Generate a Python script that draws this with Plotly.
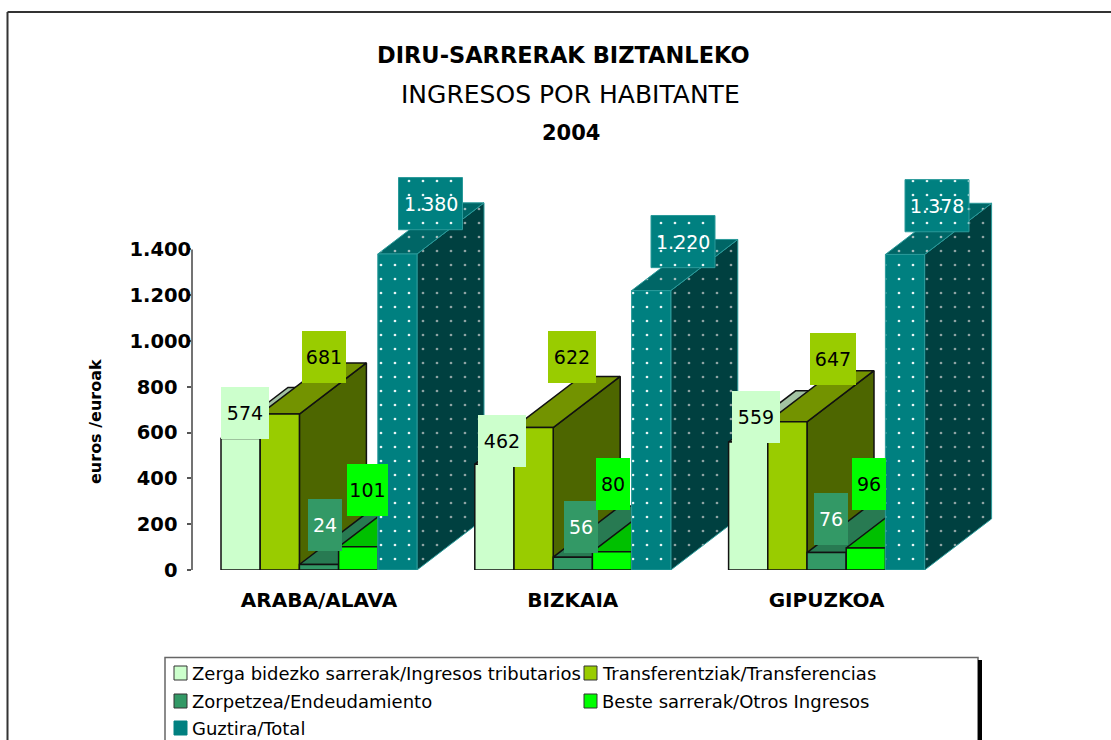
import plotly.graph_objects as go

# ---------- data ----------
categories = ["ARABA/ALAVA", "BIZKAIA", "GIPUZKOA"]
series_names = [
    "Zerga bidezko sarrerak/Ingresos tributarios",
    "Transferentziak/Transferencias",
    "Zorpetzea/Endeudamiento",
    "Beste sarrerak/Otros Ingresos",
    "Guztira/Total",
]
tributarios = [574, 462, 559]
transferencias = [681, 622, 647]
endeudamiento = [24, 56, 76]
otros = [101, 80, 96]
total = [1380, 1220, 1378]
y_ticks = [0, 200, 400, 600, 800, 1000, 1200, 1400]

# ---------- styles ----------
series_values = [tributarios, transferencias, endeudamiento, otros, total]
FONT = "DejaVu Sans"
front_col = ["#CCFFCC", "#99CC00", "#339966", "#00FF00", "#008080"]
top_col = ["#A3C2A3", "#739300", "#287A52", "#00C000", "#006666"]
side_col = ["#A3C2A3", "#4D6600", "#287A52", "#00C000", "#004040"]
edge_col = ["#111111", "#111111", "#111111", "#111111", "#2A9A9A"]
label_col = ["black", "black", "white", "black", "white"]

PX_X = 253.8          # px per category
PX_Y = 0.2283         # px per value unit
BAR = 39.2 / PX_X     # bar width in category units
DX = 67 / PX_X        # depth in category units
DY = 51 / PX_Y        # depth in value units

# label box layout: [category][series]
label_dx = [[4.4, 44.2, 6, 9.3, 33.1], [7.6, 38.4, 8.2, 1, 31.8], [7.8, 45.6, 4.4, 3.2, 32]]
label_up = [[25.8, 57.3, 39.2, 56.9, 50.2], [23.2, 70.6, 29.7, 67.7, 48.9], [25, 62.3, 33.1, 64, 48.6]]
label_w = [[48, 44, 34, 41, 64], [48, 48, 34, 34, 64], [48, 46, 34, 34, 64]]
LABEL_H = 52

fig = go.Figure()


def poly(xs, ys, fill, edge, name, pattern=None, width=1.5):
    kw = {"fillpattern": pattern} if pattern else {}
    fig.add_trace(go.Scatter(
        x=xs, y=ys, mode="lines", fill="toself", fillcolor=fill,
        line=dict(color=edge, width=width), name=name, showlegend=False,
        hoverinfo="name", **kw))


def dots(bg, fg, solidity=0.03):
    return dict(shape=".", bgcolor=bg, fgcolor=fg, size=14, solidity=solidity, fillmode="replace")


for c in range(len(categories)):
    for s, vals in enumerate(series_values):
        v = vals[c]
        x0 = c + (s - 2.5) * BAR
        x1 = x0 + BAR
        teal = s == 4
        w = 1 if teal else 1.5
        poly([x1, x1 + DX, x1 + DX, x1, x1], [0, DY, v + DY, v, 0], side_col[s], edge_col[s],
             series_names[s], dots(side_col[s], "#8FA3A3") if teal else None, w)
        poly([x0, x0 + DX, x1 + DX, x1, x0], [v, v + DY, v + DY, v, v], top_col[s], edge_col[s],
             series_names[s], dots(top_col[s], "#A5BDBD") if teal else None, w)
        poly([x0, x1, x1, x0, x0], [0, 0, v, v, 0], front_col[s], edge_col[s],
             series_names[s], dots(front_col[s], "#E8F5F5") if teal else None, w)

annotations = []
# dotted boxes behind the total labels, then all value labels
for c in range(len(categories)):
    for s, vals in enumerate(series_values):
        v = vals[c]
        cx = c + (s - 2) * BAR + label_dx[c][s] / PX_X
        cy = v + label_up[c][s] / PX_Y
        w = label_w[c][s]
        if s == 4:
            hw, hh = w / 2 / PX_X, LABEL_H / 2 / PX_Y
            poly([cx - hw, cx + hw, cx + hw, cx - hw, cx - hw],
                 [cy - hh, cy - hh, cy + hh, cy + hh, cy - hh],
                 front_col[s], edge_col[s], series_names[s], dots(front_col[s], "#E8F5F5"), 1)
        txt = f"{v:,}".replace(",", ".")
        ann = dict(x=cx, y=cy, xref="x", yref="y", text=txt, showarrow=False,
                   font=dict(family=FONT, size=19, color=label_col[s]),
                   xanchor="center", yanchor="middle")
        if s != 4:
            ann.update(bgcolor=front_col[s], width=w, height=LABEL_H, borderpad=0, borderwidth=0)
        annotations.append(ann)

# titles
for text, x, y, size, weight in [
    ("DIRU-SARRERAK BIZTANLEKO", 563, 55, 22.5, 700),
    ("INGRESOS POR HABITANTE", 570, 94, 25, 400),
    ("2004", 571, 133, 21, 700),
]:
    annotations.append(dict(x=x / 1111, y=1 - y / 740, xref="paper", yref="paper", text=text,
                            showarrow=False, xanchor="center", yanchor="middle",
                            font=dict(family=FONT, size=size, weight=weight, color="black")))

annotations.append(dict(x=96 / 1111, y=1 - 422 / 740, xref="paper", yref="paper", text="euros /euroak",
                        textangle=-90, showarrow=False, xanchor="center", yanchor="middle",
                        font=dict(family=FONT, size=16, weight=700, color="black")))

shapes = [
    dict(type="line", xref="paper", yref="paper", x0=7.5 / 1111, x1=1, y0=1 - 12 / 740, y1=1 - 12 / 740,
         line=dict(color="#333333", width=2)),
    dict(type="line", xref="paper", yref="paper", x0=7.5 / 1111, x1=7.5 / 1111, y0=0, y1=1 - 12 / 740,
         line=dict(color="#333333", width=2)),
    dict(type="line", xref="x domain", yref="y", x0=0, x1=0, y0=0, y1=y_ticks[-1],
         line=dict(color="#444444", width=1.5)),
    dict(type="rect", xref="paper", yref="paper", x0=165 / 1111, x1=978 / 1111, y0=-0.01, y1=1 - 657.5 / 740,
         line=dict(color="#666666", width=1.5), fillcolor="white"),
    dict(type="rect", xref="paper", yref="paper", x0=978 / 1111, x1=982 / 1111, y0=0, y1=1 - 660 / 740,
         line=dict(width=0), fillcolor="black"),
]

# legend
legend_pos = [(174, 673), (584, 673), (174, 701), (584, 701), (174, 728)]
for s, name in enumerate(series_names):
    lx, ly = legend_pos[s]
    shapes.append(dict(type="rect", xref="paper", yref="paper",
                       x0=lx / 1111, x1=(lx + 13) / 1111, y0=1 - (ly + 7) / 740, y1=1 - (ly - 7) / 740,
                       fillcolor=front_col[s], line=dict(color="#333333" if s < 4 else front_col[s], width=1)))
    annotations.append(dict(x=(lx + 16) / 1111, y=1 - ly / 740, xref="paper", yref="paper", text=name,
                            showarrow=False, xanchor="left", yanchor="middle",
                            font=dict(family=FONT, size=18, color="black")))

tick_text = [f"{t:,}".replace(",", ".") if t >= 1000 else f"{t}\u00a0\u00a0" for t in y_ticks]

fig.update_layout(
    width=1111, height=740, margin=dict(l=0, r=0, t=0, b=0, pad=0, autoexpand=False),
    paper_bgcolor="white", plot_bgcolor="rgba(0,0,0,0)", showlegend=False,
    separators=",.", annotations=annotations, shapes=shapes,
    xaxis=dict(domain=[192 / 1111, 1000 / 1111], range=[(192 - 319) / PX_X, (1000 - 319) / PX_X],
               tickmode="array", tickvals=list(range(len(categories))), ticktext=categories,
               showgrid=False, zeroline=False, showline=False, ticks="", ticklabelstandoff=16,
               tickfont=dict(family=FONT, size=20, weight=700, color="black")),
    yaxis=dict(domain=[170 / 740, 580 / 740], range=[0, 410 / 0.229],
               tickmode="array", tickvals=y_ticks, ticktext=tick_text,
               showgrid=False, zeroline=False, showline=False, ticks="outside", ticklen=4,
               tickcolor="#555555", tickwidth=1.5, ticklabelstandoff=-8,
               tickfont=dict(family=FONT, size=19.5, weight=700, color="black")),
)

fig.write_html("out.html", config=dict(displayModeBar=False),
               post_script="document.body.style.margin='0';document.body.style.overflow='hidden';")
